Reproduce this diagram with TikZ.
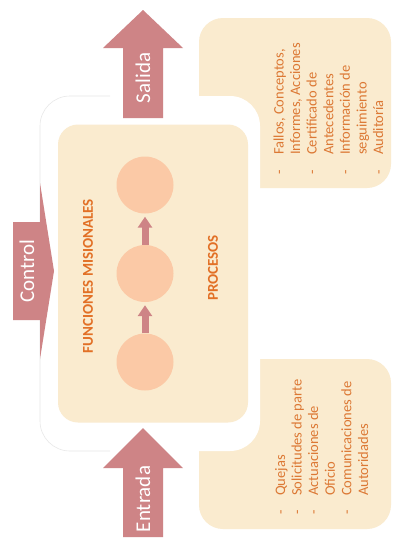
\documentclass[tikz,border=0pt]{standalone}
\usepackage{fontspec}
\setmainfont{Carlito}
\usetikzlibrary{arrows.meta}
\definecolor{beige}{RGB}{250,235,207}
\definecolor{peach}{RGB}{251,201,166}
\definecolor{rose}{RGB}{206,132,134}
\definecolor{orangetxt}{RGB}{226,112,38}
\definecolor{listtxt}{RGB}{220,120,52}
\tikzset{
  sidebox/.style={rectangle, fill=beige, rounded corners=24pt, inner sep=0pt},
  framebox/.style={rectangle, fill=white, rounded corners=30pt, inner sep=0pt},
  mainbox/.style={rectangle, fill=beige, rounded corners=20pt, inner sep=0pt},
  procircle/.style={circle, fill=peach, minimum size=57pt, inner sep=0pt},
  bigarrow/.style={fill=rose},
  smallarrow/.style={draw=rose, line width=7pt, -{Triangle[width=14pt,length=11pt]}, shorten >=3pt},
  arrowtext/.style={text=white, font=\fontsize{21}{24}\selectfont, inner sep=0pt, rotate=90},
  titletext/.style={text=orangetxt, font=\bfseries\fontsize{15}{18}\selectfont, inner sep=0pt, rotate=90},
  listtext/.style={text=listtxt, font=\fontsize{14.5}{16.6}\selectfont, inner sep=0pt, rotate=90, anchor=base west},
}
\begin{document}
\begin{tikzpicture}[x=1pt,y=-1pt]
\useasboundingbox (0,0) rectangle (394,538);
\fill[white] (0,0) rectangle (394,538);
% side boxes
\node[sidebox, minimum width=192pt, minimum height=170pt] (outbox) at (295,103) {};
\node[sidebox, minimum width=192pt, minimum height=170pt] (inbox) at (295,444) {};
% white frame
\node[framebox, minimum width=220pt, minimum height=355pt] (frame) at (150,273.5) {};
\draw[black!9, line width=0.6pt, rounded corners=30pt] (110,96) -- (40,96) -- (40,451) -- (110,451);
% main box
\node[mainbox, minimum width=190pt, minimum height=298pt] (main) at (153,273.5) {};
% circles
\node[procircle] (c1) at (145,185) {};
\node[procircle] (c2) at (145,273.5) {};
\node[procircle] (c3) at (145,362) {};
\draw[smallarrow] (c3.north) -- (c2.south);
\draw[smallarrow] (c2.north) -- (c1.south);
% big arrows
\fill[bigarrow] (123,118) -- (123,48) -- (103,48) -- (143,10) -- (183,48) -- (163,48) -- (163,118) -- cycle;
\fill[bigarrow] (123,537) -- (123,468) -- (103,468) -- (143,428) -- (183,468) -- (163,468) -- (163,537) -- cycle;
\fill[bigarrow] (13,222) -- (40,222) -- (40,183) -- (54,271) -- (40,359) -- (40,320) -- (13,320) -- cycle;
\node[arrowtext] (salida) at (143,78) {Salida};
\node[arrowtext] (entrada) at (143,499) {Entrada};
\node[arrowtext] (control) at (27,271) {Control};
% titles
\node[titletext] (funciones) at (88,276) {FUNCIONES MISIONALES};
\node[titletext] (procesos) at (213,268) {PROCESOS};
% lists
\node[listtext] (outlist) at (283.5,175) {\begin{tabular}[t]{@{}p{20pt}@{}l@{}}
-&Fallos, Conceptos,\\
 &Informes, Acciones\\
-&Certificado de\\
 &Antecedentes\\
-&Información de\\
 &seguimiento\\
-&Auditoría
\end{tabular}};
\node[listtext] (inlist) at (285,515) {\begin{tabular}[t]{@{}p{19pt}@{}l@{}}
-&Quejas\\
-&Solicitudes de parte\\
-&Actuaciones de\\
 &Oficio\\
-&Comunicaciones de\\
 &Autoridades
\end{tabular}};
\end{tikzpicture}
\end{document}
